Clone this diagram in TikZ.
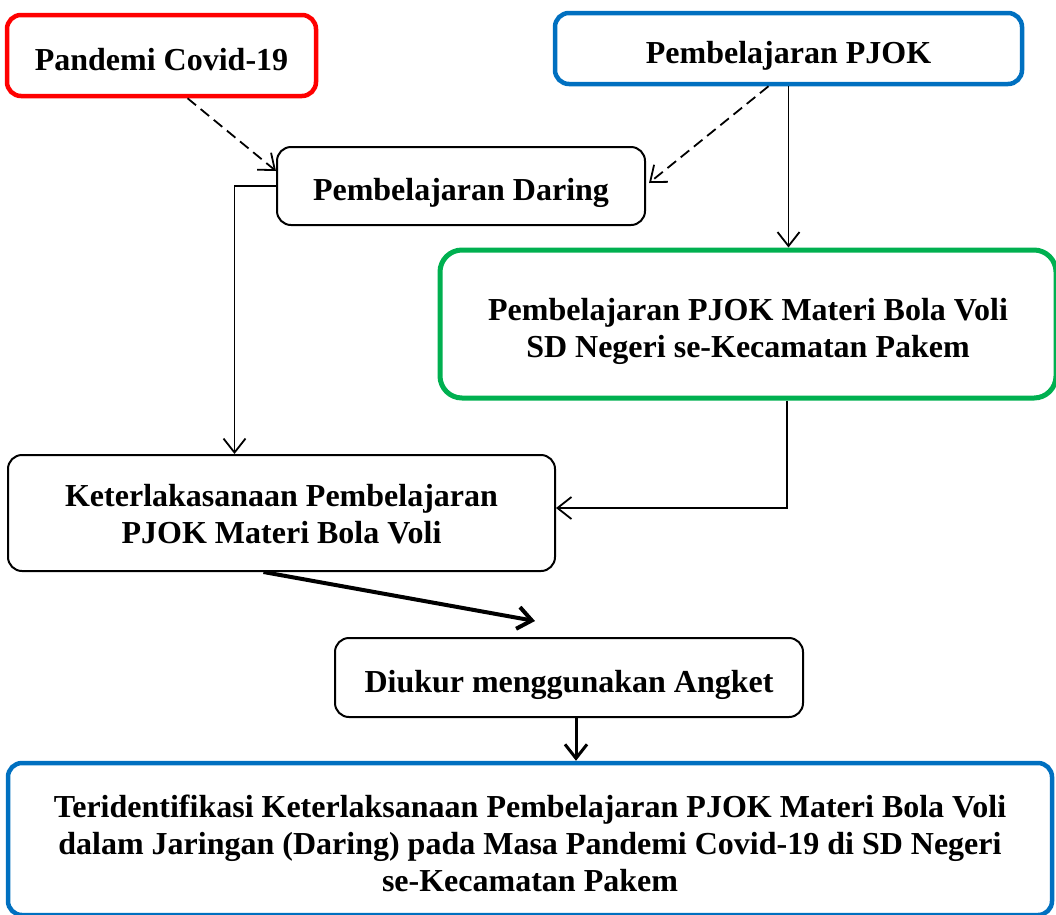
\documentclass[tikz,border=0pt]{standalone}
\usepackage{fontspec}
\setmainfont{Liberation Serif}
\usetikzlibrary{arrows.meta}
\definecolor{boxred}{RGB}{255,0,0}
\definecolor{boxblue}{RGB}{0,112,192}
\definecolor{boxgreen}{RGB}{0,176,80}

\begin{document}
\begin{tikzpicture}[x=1pt,y=-1pt]
\tikzset{
	box/.style = {
		draw, rounded corners=14pt, line width=2pt,
		inner sep=0pt, align=center,
		text height=32pt, text depth=3pt,
		font=\fontsize{32}{37}\selectfont\bfseries
	},
	redbox/.style={draw=boxred, line width=4.5pt},
	bluebox/.style={draw=boxblue, line width=4.5pt},
	greenbox/.style={draw=boxgreen, line width=5pt, rounded corners=22pt},
	link/.style={
		-{Straight Barb[length=14pt,width=22pt]}, line width=1.8pt
	},
	dashlink/.style={link, dash pattern=on 11pt off 6pt},
	thicklink/.style={link, line width=4pt},
}

\useasboundingbox (0,0) rectangle (1056,914);

% the boxes
\node [box, redbox, minimum width=309pt, minimum height=81pt] (pandemi) at (161.5, 55.5) {Pandemi Covid-19};
\node [box, bluebox, minimum width=467pt, minimum height=71pt] (pjok) at (788.5, 48.5) {Pembelajaran PJOK};
\node [box, minimum width=368pt, minimum height=78pt] (daring) at (461, 186) {Pembelajaran Daring};
\node [box, greenbox, minimum width=616pt, minimum height=148pt,
	text height=70pt, text depth=3pt] (materi) at (748, 324)
	{Pembelajaran PJOK Materi Bola Voli\\SD Negeri se-Kecamatan Pakem};
\node [box, minimum width=547pt, minimum height=116pt,
	text height=60pt, text depth=0pt] (ket) at (281.5, 513)
	{Keterlakasanaan Pembelajaran\\PJOK Materi Bola Voli};
\node [box, minimum width=468pt, minimum height=79pt] (angket) at (569, 677.5) {Diukur menggunakan Angket};
\node [box, bluebox, minimum width=1044pt, minimum height=152pt,
	text height=105pt, text depth=0pt] (hasil) at (530, 839)
	{Teridentifikasi Keterlaksanaan Pembelajaran PJOK Materi Bola Voli\\
	 dalam Jaringan (Daring) pada Masa Pandemi Covid-19 di SD Negeri\\
	 se-Kecamatan Pakem};

% the arrows
\draw [dashlink] ([xshift=26pt]pandemi.south) -- ([yshift=-25pt]daring.north west);
\draw [dashlink] ([xshift=-20pt]pjok.south) -- ([xshift=3pt,yshift=3pt]daring.east);
\draw [link] (pjok.south) -- (pjok.south |- materi.north);
\draw [link] (daring.west) -| ([xshift=-47pt]ket.north);
\draw [link] ([xshift=39pt]materi.south) |- ([yshift=5pt]ket.east);
\draw [thicklink] ([xshift=-18pt]ket.south) -- ([xshift=-34pt,yshift=16pt]angket.north);
\draw [thicklink, line width=3pt] ([xshift=7pt]angket.south) -- ([xshift=46pt]hasil.north);

\end{tikzpicture}
\end{document}
